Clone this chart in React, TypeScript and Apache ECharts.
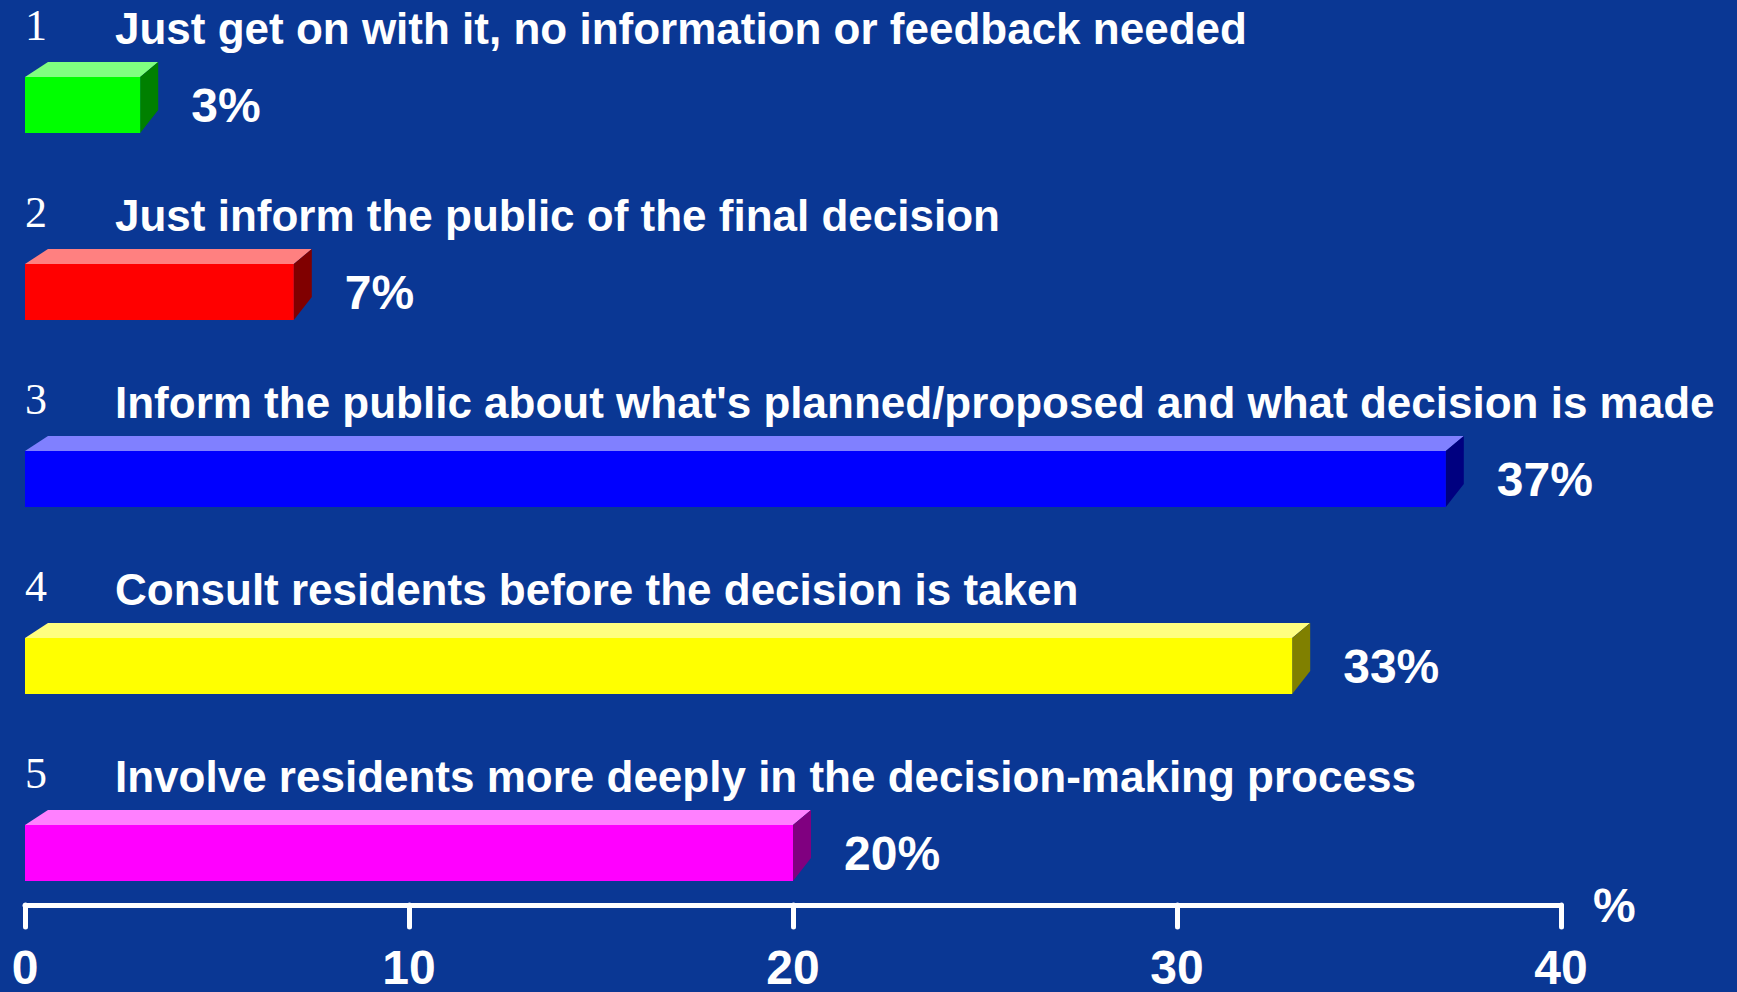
import React, { useEffect, useRef } from "react";
import * as echarts from "echarts";

const categories = [
  "Just get on with it, no information or feedback needed",
  "Just inform the public of the final decision",
  "Inform the public about what's planned/proposed and what decision is made",
  "Consult residents before the decision is taken",
  "Involve residents more deeply in the decision-making process",
];
const numbers = ["1", "2", "3", "4", "5"];
const values = [3, 7, 37, 33, 20];
const frontColors = ["#00FF00", "#FF0000", "#0000FF", "#FFFF00", "#FF00FF"];
const topColors = ["#80FF80", "#FF8080", "#8080FF", "#FFFF80", "#FF80FF"];
const sideColors = ["#008000", "#800000", "#000080", "#808000", "#800080"];
const xTicks = [0, 10, 20, 30, 40];

const BG = "#0A3794";

export default function App() {
  const ref = useRef<HTMLDivElement>(null);
  useEffect(() => {
    if (!ref.current) return;
    const chart = echarts.init(ref.current, null, { renderer: "svg" });
    const data = values.map((v, i) => [v, i]);
    const option: any = {
      animation: false,
      backgroundColor: BG,
      grid: {
        left: 25,
        width: 1536,
        top: 11.5,
        height: 935,
        containLabel: false,
        outerBoundsMode: "none",
      },
      xAxis: {
        type: "value",
        min: xTicks[0],
        max: xTicks[xTicks.length - 1],
        interval: 10,
        offset: -41.5,
        splitLine: { show: false },
        axisLine: { show: true, lineStyle: { color: "#FFFFFF", width: 5, cap: "round" } },
        axisTick: { show: true, length: 22, lineStyle: { color: "#FFFFFF", width: 5, cap: "round" } },
        axisLabel: {
          color: "#FFFFFF",
          fontFamily: "'Liberation Sans', Arial, sans-serif",
          fontWeight: "bold",
          fontSize: 48,
          lineHeight: 48,
          margin: 38,
        },
        name: "%",
        nameLocation: "end",
        nameGap: 32,
        nameTextStyle: {
          color: "#FFFFFF",
          fontFamily: "'Liberation Sans', Arial, sans-serif",
          fontWeight: "bold",
          fontSize: 48,
          verticalAlign: "middle",
        },
      },
      yAxis: {
        type: "category",
        inverse: true,
        data: categories,
        show: false,
      },
      series: [
        {
          type: "custom",
          data,
          encode: { x: 0, y: 1 },
          renderItem: (params: any, api: any) => {
            const v = api.value(0);
            const idx = params.dataIndex;
            const p0 = api.coord([0, idx]);
            const p1 = api.coord([v, idx]);
            const cy = p0[1];
            const x0 = p0[0];
            const x1 = p1[0];
            const h = 56;
            const yF = cy - h / 2;
            const yB = cy + h / 2;
            return {
              type: "group",
              children: [
                {
                  type: "polygon",
                  shape: { points: [[x0, yF], [x0 + 23, yF - 15], [x1 + 18, yF - 15], [x1, yF]] },
                  style: { fill: topColors[idx] },
                },
                {
                  type: "polygon",
                  shape: { points: [[x1, yF], [x1 + 18, yF - 15], [x1 + 18, yB - 23], [x1, yB]] },
                  style: { fill: sideColors[idx] },
                },
                {
                  type: "rect",
                  shape: { x: x0, y: yF, width: x1 - x0, height: h },
                  style: { fill: frontColors[idx] },
                },
                {
                  type: "text",
                  style: {
                    text: values[idx] + "%",
                    x: x1 + 18 + 33,
                    y: cy,
                    fill: "#FFFFFF",
                    fontFamily: "'Liberation Sans', Arial, sans-serif",
                    fontWeight: "bold",
                    fontSize: 48,
                    align: "left",
                    verticalAlign: "middle",
                  },
                },
                {
                  type: "text",
                  style: {
                    text: categories[idx],
                    x: x0 + 90,
                    y: cy - 77,
                    fill: "#FFFFFF",
                    fontFamily: "'Liberation Sans', Arial, sans-serif",
                    fontWeight: "bold",
                    fontSize: 44,
                    align: "left",
                    verticalAlign: "middle",
                  },
                },
                {
                  type: "text",
                  style: {
                    text: numbers[idx],
                    x: x0,
                    y: cy - 80,
                    fill: "#FFFFFF",
                    fontFamily: "'Liberation Serif', 'Times New Roman', serif",
                    fontSize: 44,
                    align: "left",
                    verticalAlign: "middle",
                  },
                },
              ],
            };
          },
        },
      ],
    };
    chart.setOption(option);
    return () => chart.dispose();
  }, []);
  return (
    <div
      ref={ref}
      style={{ position: "fixed", left: 0, top: 0, width: 1737, height: 992 }}
    />
  );
}
